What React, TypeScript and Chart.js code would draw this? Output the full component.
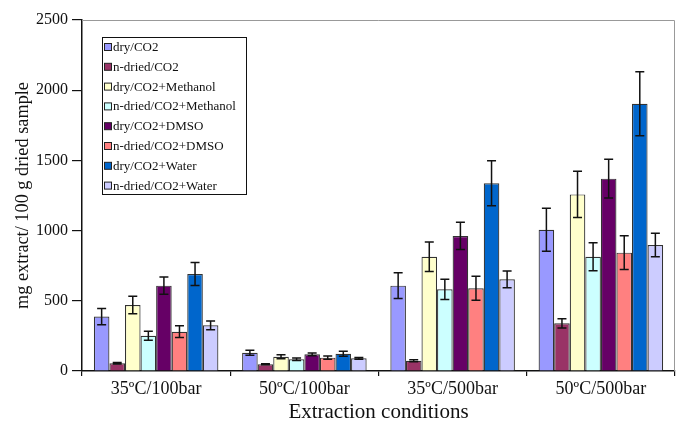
import React, { useEffect, useRef } from "react";
import { Chart, registerables } from "chart.js";

Chart.register(...registerables);

const categories = ["35ºC/100bar", "50ºC/100bar", "35ºC/500bar", "50ºC/500bar"];
const seriesLabels = [
  "dry/CO2",
  "n-dried/CO2",
  "dry/CO2+Methanol",
  "n-dried/CO2+Methanol",
  "dry/CO2+DMSO",
  "n-dried/CO2+DMSO",
  "dry/CO2+Water",
  "n-dried/CO2+Water",
];
const seriesColors = ["#9999FF", "#993366", "#FFFFCC", "#CCFFFF", "#660066", "#FF8080", "#0066CC", "#CCCCFF"];

const dryCO2 = [388, 130, 608, 1006];
const nDriedCO2 = [55, 48, 73, 340];
const dryMethanol = [470, 102, 814, 1258];
const nDriedMethanol = [251, 83, 582, 814];
const dryDMSO = [608, 119, 962, 1370];
const nDriedDMSO = [280, 95, 589, 843];
const dryWater = [691, 123, 1337, 1904];
const nDriedWater = [325, 90, 653, 897];

const errDryCO2 = [58, 18, 92, 153];
const errNDriedCO2 = [5, 4, 7, 33];
const errDryMethanol = [62, 14, 105, 165];
const errNDriedMethanol = [32, 9, 72, 100];
const errDryDMSO = [62, 10, 97, 138];
const errNDriedDMSO = [42, 12, 85, 120];
const errDryWater = [82, 18, 160, 228];
const errNDriedWater = [32, 7, 60, 84];

const seriesValues = [dryCO2, nDriedCO2, dryMethanol, nDriedMethanol, dryDMSO, nDriedDMSO, dryWater, nDriedWater];
const seriesErrors = [
  errDryCO2,
  errNDriedCO2,
  errDryMethanol,
  errNDriedMethanol,
  errDryDMSO,
  errNDriedDMSO,
  errDryWater,
  errNDriedWater,
];

const yTicks = [0, 500, 1000, 1500, 2000, 2500];

const FONT = "'Liberation Serif', 'Times New Roman', serif";

const errorBarPlugin = {
  id: "errorBars",
  afterDatasetsDraw(chart: any) {
    const ctx = chart.ctx;
    const y = chart.scales.y;
    ctx.save();
    ctx.strokeStyle = "#111";
    ctx.lineWidth = 1.5;
    chart.data.datasets.forEach((ds: any, d: number) => {
      const meta = chart.getDatasetMeta(d);
      meta.data.forEach((bar: any, i: number) => {
        const v = ds.data[i];
        const e = seriesErrors[d][i];
        const x = bar.x;
        const yt = y.getPixelForValue(v + e);
        const yb = y.getPixelForValue(v - e);
        const cap = 4.5;
        ctx.beginPath();
        ctx.moveTo(x, yt);
        ctx.lineTo(x, yb);
        ctx.moveTo(x - cap, yt);
        ctx.lineTo(x + cap, yt);
        ctx.moveTo(x - cap, yb);
        ctx.lineTo(x + cap, yb);
        ctx.stroke();
      });
    });
    ctx.restore();
  },
};

const frameLegendPlugin = {
  id: "frameLegend",
  afterDraw(chart: any) {
    const ctx = chart.ctx;
    const a = chart.chartArea;
    ctx.save();
    ctx.strokeStyle = "#999";
    ctx.lineWidth = 1;
    ctx.beginPath();
    ctx.moveTo(a.left, a.top + 0.5);
    ctx.lineTo(a.right - 0.5, a.top + 0.5);
    ctx.lineTo(a.right - 0.5, a.bottom);
    ctx.stroke();

    const bx = 102.5, by = 37.5, bw = 144, bh = 157;
    ctx.fillStyle = "#fff";
    ctx.fillRect(bx, by, bw, bh);
    ctx.strokeStyle = "#111";
    ctx.lineWidth = 1;
    ctx.strokeRect(bx, by, bw, bh);
    ctx.font = `13px ${FONT}`;
    ctx.textBaseline = "middle";
    chart.data.datasets.forEach((ds: any, i: number) => {
      const cy = 47 + i * 19.8;
      ctx.fillStyle = ds.backgroundColor;
      ctx.fillRect(104.5, cy - 3.5, 7, 7);
      ctx.strokeStyle = "#222";
      ctx.strokeRect(104.5, cy - 3.5, 7, 7);
      ctx.fillStyle = "#111";
      ctx.fillText(ds.label, 113, cy + 0.5);
    });
    ctx.restore();
  },
};

export default function App() {
  const ref = useRef<HTMLCanvasElement | null>(null);
  useEffect(() => {
    document.body.style.margin = "0";
    const canvas = ref.current!;
    const chart = new Chart(canvas, {
      type: "bar",
      data: {
        labels: categories,
        datasets: seriesLabels.map((label, i) => ({
          label,
          data: seriesValues[i],
          backgroundColor: seriesColors[i],
          borderColor: "#333",
          borderWidth: 1.2,
          categoryPercentage: 0.84,
          barPercentage: 1,
        })),
      },
      options: {
        responsive: false,
        animation: false,
        devicePixelRatio: 1,
        layout: { padding: { top: 20, right: 1, left: 0, bottom: 0 } },
        plugins: {
          legend: { display: false },
          tooltip: { enabled: false },
        },
        scales: {
          x: {
            grid: { display: true, drawOnChartArea: false, drawTicks: true, tickLength: 5, color: "#111", lineWidth: 1.2 },
            border: { display: true, color: "#111", width: 1.5 },
            ticks: { color: "#111", font: { family: FONT, size: 18 }, padding: 2 },
            title: {
              display: true,
              text: "Extraction conditions",
              color: "#111",
              font: { family: FONT, size: 21, lineHeight: 1 },
              padding: { top: 6, bottom: 0 },
            },
            afterFit(scale: any) {
              scale.height = 52;
            },
          },
          y: {
            min: 0,
            max: 2500,
            afterBuildTicks(scale: any) {
              scale.ticks = yTicks.map((v) => ({ value: v }));
            },
            grid: { display: true, drawOnChartArea: false, drawTicks: true, tickLength: 10, color: "#111", lineWidth: 1.2 },
            border: { display: true, color: "#111", width: 1.5 },
            ticks: {
              color: "#111",
              font: { family: FONT, size: 16 },
              padding: 4,
              callback: (v: any) => String(v),
            },
            title: { display: true, text: "mg extract/ 100 g dried sample", color: "#111", font: { family: FONT, size: 18.3 }, padding: { top: 12, bottom: 0 } },
            afterFit(scale: any) {
              scale.width = 82;
            },
          },
        },
      },
      plugins: [errorBarPlugin, frameLegendPlugin],
    });
    return () => chart.destroy();
  }, []);
  return <canvas ref={ref} width={676} height={423} style={{ display: "block" }} />;
}
